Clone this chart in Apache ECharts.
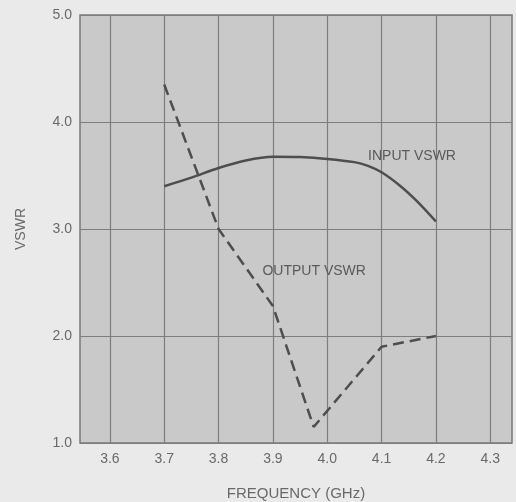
<!DOCTYPE html>
<html>
<head>
<meta charset="utf-8">
<script src="https://cdn.jsdelivr.net/npm/echarts@6/dist/echarts.min.js"></script>
<style>
html,body{margin:0;padding:0;background:#eaeaea;}
#c{width:516px;height:502px;}
</style>
</head>
<body>
<div id="c"></div>
<script>
const xTicks = [3.6, 3.7, 3.8, 3.9, 4.0, 4.1, 4.2, 4.3];
const yTicks = [1.0, 2.0, 3.0, 4.0, 5.0];
const inputFreq = [3.7, 3.75, 3.8, 3.85, 3.9, 3.95, 4.0, 4.05, 4.075, 4.1, 4.135, 4.165, 4.2];
const inputVswr = [3.40, 3.48, 3.57, 3.64, 3.675, 3.672, 3.655, 3.625, 3.59, 3.53, 3.40, 3.26, 3.07];
const outputFreq = [3.7, 3.8, 3.9, 3.975, 4.1, 4.2];
const outputVswr = [4.35, 3.0, 2.28, 1.15, 1.9, 2.0];

const chart = echarts.init(document.getElementById('c'), null, {renderer: 'canvas'});
const txt = '#696969';
const font = 'Liberation Sans, Arial, sans-serif';
function lbl(text) {
  return {show: true, formatter: text, position: 'inside', color: '#5a5a5a', fontSize: 14, fontFamily: font};
}
chart.setOption({
  backgroundColor: '#eaeaea',
  animation: false,
  grid: {left: 80, top: 15, right: 4, bottom: 59, show: true, outerBoundsMode: 'none', containLabel: false,
         backgroundColor: '#c9c9c9', borderColor: '#7a7a7a', borderWidth: 1.5},
  xAxis: {
    type: 'value', min: 3.545, max: 4.34,
    name: 'FREQUENCY (GHz)', nameLocation: 'middle', nameGap: 43,
    nameTextStyle: {color: txt, fontSize: 15, fontFamily: font},
    axisLine: {show: false},
    axisTick: {show: false, customValues: xTicks},
    axisLabel: {customValues: xTicks, color: txt, fontSize: 14, fontFamily: font, margin: 9,
                formatter: v => v.toFixed(1)},
    splitLine: {show: true, lineStyle: {color: '#7e7e7e', width: 1.2}}
  },
  yAxis: {
    type: 'value', min: 1, max: 5, interval: 1,
    name: 'VSWR', nameLocation: 'middle', nameGap: 52,
    nameTextStyle: {color: txt, fontSize: 14, fontFamily: font},
    axisLine: {show: false},
    axisTick: {show: false},
    axisLabel: {color: txt, fontSize: 14, fontFamily: font, margin: 8,
                formatter: v => v.toFixed(1)},
    splitLine: {show: true, lineStyle: {color: '#7e7e7e', width: 1.2}}
  },
  series: [
    {
      name: 'INPUT VSWR', type: 'line', smooth: 0.3, symbol: 'none',
      data: inputFreq.map((f, i) => [f, inputVswr[i]]),
      lineStyle: {color: '#4e4e4e', width: 2.5},
      markPoint: {symbol: 'circle', symbolSize: 1, silent: true, itemStyle: {color: 'rgba(0,0,0,0)'},
        data: [{coord: [4.156, 3.68], label: lbl('INPUT VSWR')}]}
    },
    {
      name: 'OUTPUT VSWR', type: 'line', symbol: 'none',
      data: outputFreq.map((f, i) => [f, outputVswr[i]]),
      lineStyle: {color: '#4e4e4e', width: 2.5, type: [11, 6]},
      markPoint: {symbol: 'circle', symbolSize: 1, silent: true, itemStyle: {color: 'rgba(0,0,0,0)'},
        data: [{coord: [3.976, 2.61], label: lbl('OUTPUT VSWR')}]}
    }
  ]
});
</script>
</body>
</html>
